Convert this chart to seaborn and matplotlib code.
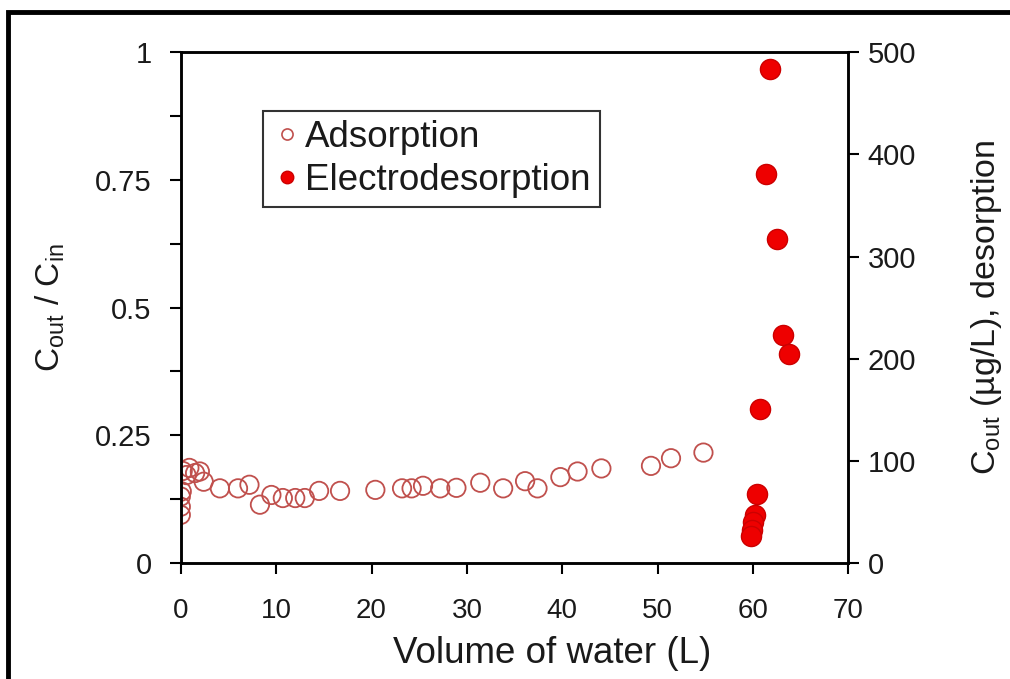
import matplotlib
matplotlib.use("Agg")
import matplotlib.pyplot as plt
import seaborn as sns
import pandas as pd
from matplotlib.lines import Line2D
from matplotlib.patches import Rectangle
from matplotlib.ticker import MultipleLocator

# Adsorption: volume (L) vs Cout/Cin
ads_volume = [0.0, 0.0, 0.0, 0.1, 0.2, 0.6, 0.9, 1.5, 2.0, 2.4, 4.1, 6.0, 7.2, 8.3,
              9.5, 10.7, 12.0, 13.0, 14.5, 16.7, 20.4, 23.2, 24.2, 25.4, 27.2,
              28.9, 31.4, 33.8, 36.1, 37.4, 39.8, 41.6, 44.1, 49.3, 51.4, 54.8]
ads_ratio = [0.094, 0.110, 0.130, 0.140, 0.180, 0.172, 0.186, 0.176, 0.179, 0.159,
             0.146, 0.146, 0.153, 0.114, 0.133, 0.127, 0.127, 0.127, 0.141, 0.141,
             0.143, 0.146, 0.146, 0.151, 0.146, 0.147, 0.157, 0.146, 0.160, 0.146,
             0.168, 0.179, 0.185, 0.190, 0.205, 0.216]

# Electrodesorption: volume (L) vs Cout (ug/L)
des_volume = [61.8, 61.4, 62.5, 63.1, 63.8, 60.7, 60.4, 60.2, 60.0, 59.9, 59.8]
des_conc = [484, 381, 317, 223, 205, 151, 67, 47, 40, 32, 26]

left_ticks = [0, 0.25, 0.5, 0.75, 1]
left_tick_labels = ["0", "0.25", "0.5", "0.75", "1"]

ads = pd.DataFrame({"volume": ads_volume, "ratio": ads_ratio})
des = pd.DataFrame({"volume": des_volume, "conc": des_conc})

sns.set_style("ticks")
plt.rcParams["font.family"] = ["Liberation Sans", "DejaVu Sans"]
plt.rcParams["mathtext.fontset"] = "custom"
plt.rcParams["mathtext.rm"] = "Liberation Sans"
plt.rcParams["mathtext.it"] = "Liberation Sans"
plt.rcParams["text.color"] = "#1a1a1a"
plt.rcParams["axes.labelcolor"] = "#1a1a1a"
plt.rcParams["xtick.color"] = "black"
plt.rcParams["ytick.color"] = "black"
plt.rcParams["xtick.labelcolor"] = "#1a1a1a"
plt.rcParams["ytick.labelcolor"] = "#1a1a1a"

fig = plt.figure(figsize=(10.1, 6.79), dpi=100)
ax = fig.add_axes([0.179, 0.171, 0.661, 0.752])
ax2 = ax.twinx()

sns.scatterplot(data=ads, x="volume", y="ratio", ax=ax, s=175, marker="o",
                facecolors="none", edgecolor="#c0504d", linewidth=1.3, legend=False)
sns.scatterplot(data=des, x="volume", y="conc", ax=ax2, s=210, marker="o",
                color="#ee0000", edgecolor="#cc0000", linewidth=1, legend=False)

ax.set_xlim(0, 70)
ax.set_ylim(0, 1)
ax2.set_ylim(0, 500)
ax.xaxis.set_major_locator(MultipleLocator(10))
ax.set_yticks(left_ticks, left_tick_labels)
ax.yaxis.set_minor_locator(MultipleLocator(0.125))
ax2.yaxis.set_major_locator(MultipleLocator(100))

for a in (ax, ax2):
    for sp in a.spines.values():
        sp.set_visible(True)
        sp.set_linewidth(1.8)
        sp.set_color("black")

ax.tick_params(axis="y", which="both", direction="out", length=8, width=1.5,
               labelsize=21, pad=13)
ax.tick_params(axis="x", direction="out", length=8, width=1.5, labelsize=20, pad=17)
ax2.tick_params(axis="y", direction="out", length=8, width=1.5, labelsize=21, pad=6)

ax.set_xlabel("Volume of water (L)", fontsize=26.5)
ax.xaxis.set_label_coords(0.556, -0.143)
ax.set_ylabel(r"C$_{\mathrm{out}}$ / C$_{\mathrm{in}}$", fontsize=24, labelpad=20)
ax2.set_ylabel(r"C$_{\mathrm{out}}$ (µg/L), desorption", fontsize=24.5, labelpad=38)

handles = [
    Line2D([], [], marker="o", linestyle="none", markersize=8,
           markerfacecolor="none", markeredgecolor="#c0504d", markeredgewidth=1.2),
    Line2D([], [], marker="o", linestyle="none", markersize=9,
           markerfacecolor="#ee0000", markeredgecolor="#cc0000"),
]
leg = ax.legend(handles, ["Adsorption", "Electrodesorption"], loc="upper left",
                bbox_to_anchor=(0.123, 0.885), fontsize=26.5, frameon=True,
                fancybox=False, handletextpad=0.1, handlelength=0.8,
                borderpad=0.25, labelspacing=0.2, borderaxespad=0)
leg.get_frame().set_edgecolor("black")
leg.get_frame().set_linewidth(1.5)
leg.set_zorder(10)

# outer frame of the original figure (cut off at right and bottom)
fig.patches.append(Rectangle((0.008, -0.1), 1.2, 1.082, transform=fig.transFigure,
                             fill=False, edgecolor="black", linewidth=3.5,
                             clip_on=False))

fig.savefig("out.png", dpi=100)
